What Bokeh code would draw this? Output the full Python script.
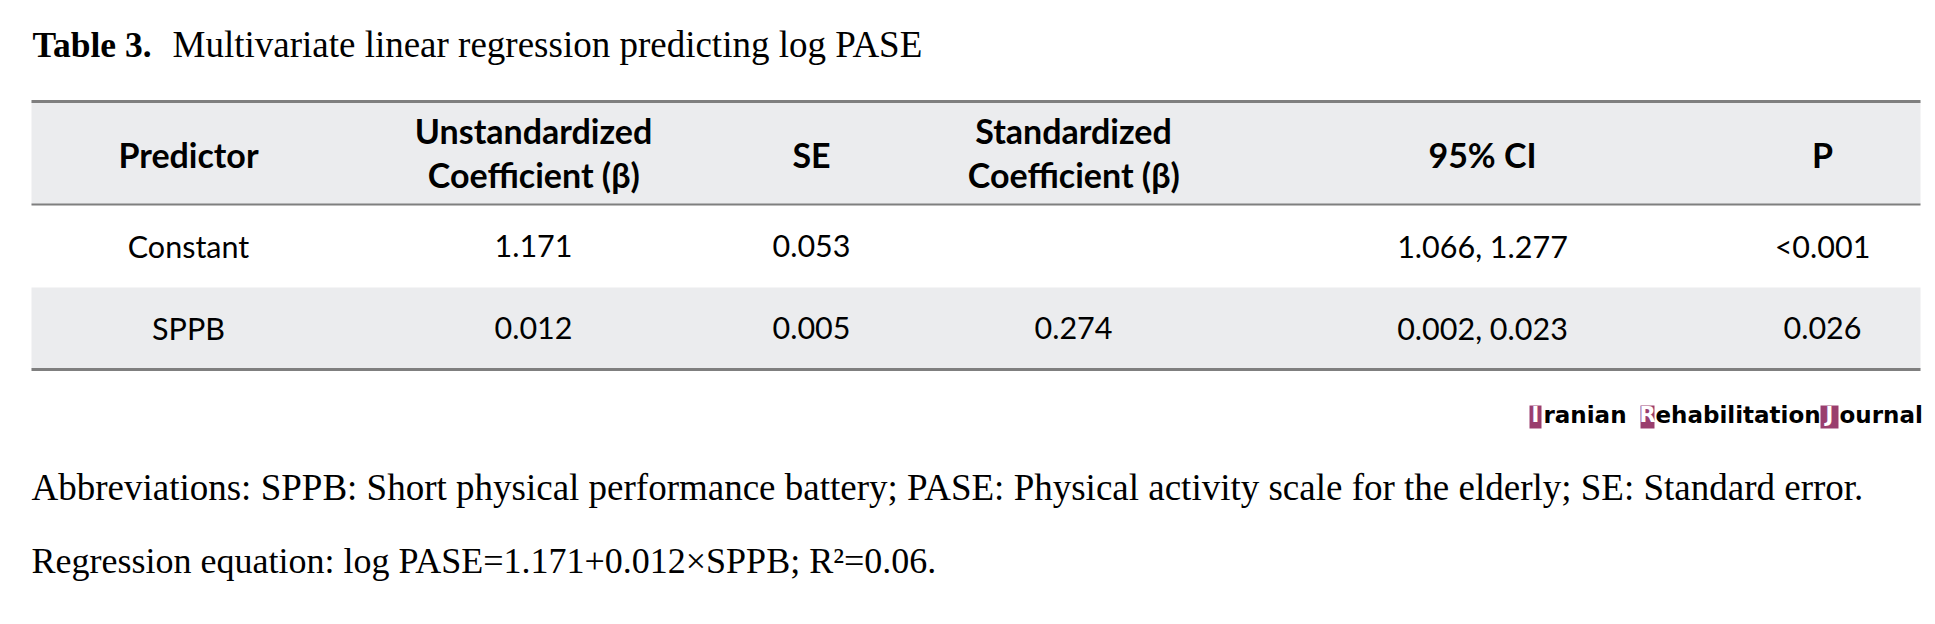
from bokeh.plotting import figure
from bokeh.models import Range1d
from bokeh.core.properties import value
from bokeh.embed import file_html
from bokeh.resources import INLINE

# ---------------- data ----------------
title_bold = "Table 3."
title_rest = "Multivariate linear regression predicting log PASE"
headers = [["Predictor"], ["Unstandardized", "Coefficient (\u03b2)"], ["SE"],
           ["Standardized", "Coefficient (\u03b2)"], ["95% CI"], ["P"]]
predictors = ["Constant", "SPPB"]
unstd_beta = ["1.171", "0.012"]
std_err = ["0.053", "0.005"]
std_beta = ["", "0.274"]
ci95 = ["1.066, 1.277", "0.002, 0.023"]
p_values = ["<0.001", "0.026"]
footnote1 = ("Abbreviations: SPPB: Short physical performance battery; PASE: Physical activity "
             "scale for the elderly; SE: Standard error.")
footnote2 = "Regression equation: log PASE=1.171+0.012\u00d7SPPB; R\u00b2=0.06."
logo_caps = ["I", "R", "J"]
logo_rest = ["ranian", "ehabilitation", "ournal"]

# ---------------- layout ----------------
W, H = 1927, 616
TS = -13  # text baseline correction
col_x = [188, 533, 811, 1073, 1482, 1822]
tbl_left, tbl_right = 31, 1920
hdr_top, hdr_bot = 101, 204
row_tops = [204, 287]
row_bots = [287, 369]
row_base = [258, 340]
gray_bg = "#EBECEE"
rule = "#7F7F7F"
body_font = value("Lato")
serif = value("Liberation Serif")

p = figure(width=W, height=H, x_range=Range1d(0, W), y_range=Range1d(H, 0),
           output_backend="svg", toolbar_location=None, min_border=0,
           x_axis_type=None, y_axis_type=None)
p.grid.visible = False
p.outline_line_color = None
p.background_fill_color = "white"
p.border_fill_color = "white"

# backgrounds
p.quad(left=[tbl_left, tbl_left], right=[tbl_right, tbl_right],
       top=[hdr_top, row_tops[1]], bottom=[hdr_bot, row_bots[1]],
       fill_color=gray_bg, line_color=None)
# rules
p.segment(x0=[tbl_left], x1=[tbl_right], y0=[hdr_top], y1=[hdr_top], line_color=rule, line_width=3)
p.segment(x0=[tbl_left], x1=[tbl_right], y0=[hdr_bot], y1=[hdr_bot], line_color=rule, line_width=2)
p.segment(x0=[tbl_left], x1=[tbl_right], y0=[row_bots[1]], y1=[row_bots[1]], line_color=rule, line_width=3)

# header text
hx, hy, ht = [], [], []
for cx, lines in zip(col_x, headers):
    if len(lines) == 1:
        hx.append(cx); hy.append(167 + TS); ht.append(lines[0])
    else:
        for yy, t in zip([143, 187], lines):
            hx.append(cx); hy.append(yy + TS); ht.append(t)
p.text(x=hx, y=hy, text=ht, text_font=body_font, text_font_style="bold",
       text_font_size="34px", text_align="center", text_baseline="alphabetic", text_color="black")

# body text
columns = [predictors, unstd_beta, std_err, std_beta, ci95, p_values]
bx, by, bt = [], [], []
for cx, colvals in zip(col_x, columns):
    for r, v in enumerate(colvals):
        if v:
            bx.append(cx); by.append(row_base[r] + TS); bt.append(v)
p.text(x=bx, y=by, text=bt, text_font=body_font, text_font_size="30.5px",
       text_align="center", text_baseline="alphabetic", text_color="black")

# title
p.text(x=[32], y=[57 + TS], text=[title_bold], text_font=serif, text_font_style="bold",
       text_font_size="35.5px", text_baseline="alphabetic", text_color="black")
p.text(x=[172], y=[57 + TS], text=[title_rest], text_font=serif,
       text_font_size="37px", text_baseline="alphabetic", text_color="black")

# footnotes
p.text(x=[31], y=[500 + TS], text=[footnote1], text_font=serif,
       text_font_size="37px", text_baseline="alphabetic", text_color="black")
p.text(x=[31], y=[573 + TS], text=[footnote2], text_font=serif,
       text_font_size="36px", text_baseline="alphabetic", text_color="black")

# logo
box_l = [1529, 1640, 1820]
box_r = [1541, 1654, 1838]
p.quad(left=box_l, right=box_r, top=[405] * 3, bottom=[428] * 3,
       fill_color="#9A3E6E", line_color=None)
p.text(x=[(a + b) / 2 for a, b in zip(box_l, box_r)], y=[427 + TS] * 3, text=logo_caps,
       text_font=value("DejaVu Sans"), text_font_style="bold", text_font_size="21px",
       text_align="center", text_baseline="alphabetic", text_color="white")
p.text(x=[1543, 1655, 1839], y=[427 + TS] * 3, text=logo_rest,
       text_font=value("DejaVu Sans"), text_font_style="bold", text_font_size="23px",
       text_baseline="alphabetic", text_color="black")

open("out.html", "w").write(file_html(p, INLINE))
